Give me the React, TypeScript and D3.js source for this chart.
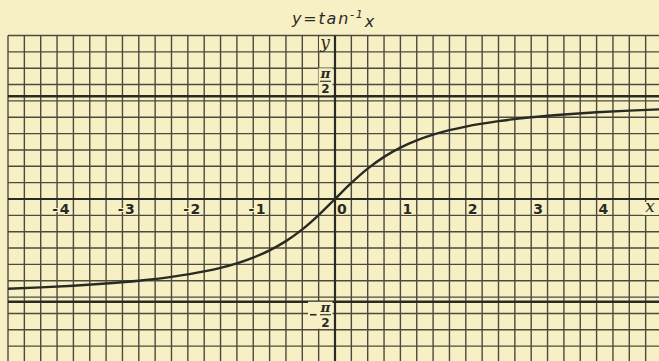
import React from "react";
import * as d3 from "d3";

// Sampled points of the inverse tangent curve
const curveX = [-5, -4.5, -4, -3.5, -3, -2.5, -2, -1.75, -1.5, -1.25, -1, -0.75, -0.5, -0.25, 0, 0.25, 0.5, 0.75, 1, 1.25, 1.5, 1.75, 2, 2.5, 3, 3.5, 4, 4.5, 5];
const curveY = [-1.373, -1.352, -1.326, -1.292, -1.249, -1.19, -1.107, -1.052, -0.983, -0.896, -0.785, -0.644, -0.464, -0.245, 0, 0.245, 0.464, 0.644, 0.785, 0.896, 0.983, 1.052, 1.107, 1.19, 1.249, 1.292, 1.326, 1.352, 1.373];

const xTicks = [-4, -3, -2, -1, 0, 1, 2, 3, 4];
const xTickLabels = ["-4", "-3", "-2", "-1", "0", "1", "2", "3", "4"];
const asymptotes = [Math.PI / 2, -Math.PI / 2];

const W = 659;
const H = 361;
const PAPER = "#f7f0c4";
const INK = "#2a2a24";
const GRID = "#4b4a3e";

export default function App() {
  const x = d3.scaleLinear().domain([-5, 5]).range([8, 662]);
  const y = d3.scaleLinear().domain([-2.5, 2.5]).range([362.5, 35.5]);

  const step = 0.25;
  const vLines = d3.range(-5, 5 + 1e-9, step);
  const hLines = d3.range(-2.5, 2.5 + 1e-9, step);

  const pts: [number, number][] = curveX.map((v, i) => [v, curveY[i]]);
  const line = d3
    .line<[number, number]>()
    .x((d) => x(d[0]))
    .y((d) => y(d[1]))
    .curve(d3.curveMonotoneX);

  const top = y(2.5);
  const left = x(-5);

  const labelFont = "'DejaVu Sans', sans-serif";

  return (
    <div style={{ position: "fixed", left: 0, top: 0 }}>
      <svg width={W} height={H} style={{ display: "block" }}>
        <defs>
          <clipPath id="plot">
            <rect x={left} y={top} width={W - left} height={H - top} />
          </clipPath>
        </defs>
        <rect width={W} height={H} fill={PAPER} />

        {/* Title */}
        <text
          x={292}
          y={24}
          fontFamily={labelFont}
          fontStyle="italic"
          fontSize={16}
          fill={INK}
          letterSpacing={1.8}
        >
          <tspan>y=tan</tspan>
          <tspan fontSize={11} dy={-6}>-1</tspan>
          <tspan dy={9} fontSize={16}>x</tspan>
        </text>

        {/* Grid */}
        <g stroke={GRID} strokeWidth={1.4}>
          {vLines.map((v) => (
            <line key={"v" + v} x1={x(v)} x2={x(v)} y1={top} y2={H} />
          ))}
          {hLines.map((v) => (
            <line key={"h" + v} x1={left} x2={W} y1={y(v)} y2={y(v)} />
          ))}
        </g>

        {/* Asymptotes at ±π/2 */}
        <g stroke={INK} strokeWidth={2.4}>
          {asymptotes.map((a) => (
            <line key={a} x1={left} x2={W} y1={y(a)} y2={y(a)} />
          ))}
        </g>

        {/* Axes */}
        <g stroke={INK} strokeWidth={2.2}>
          <line x1={left} x2={W} y1={y(0)} y2={y(0)} />
          <line x1={x(0)} x2={x(0)} y1={top} y2={H} />
        </g>

        {/* Curve */}
        <path
          d={line(pts) || ""}
          fill="none"
          stroke={INK}
          strokeWidth={2.4}
          clipPath="url(#plot)"
        />

        {/* x tick labels */}
        <g fontFamily={labelFont} fontWeight="bold" fontSize={14} fill={INK}>
          {xTicks.map((t, i) => (
            <text
              key={t}
              x={t < 0 ? x(t) - 2.5 : x(t) + 2}
              y={y(0) + 14.5}
              textAnchor={t < 0 ? "end" : "start"}
              letterSpacing={t < 0 ? 1.5 : 0}
              stroke={PAPER}
              strokeWidth={2}
              paintOrder="stroke"
            >
              {xTickLabels[i]}
            </text>
          ))}
        </g>

        {/* Axis names */}
        <rect x={319} y={37} width={13} height={14} fill={PAPER} />
        <text
          x={325}
          y={48}
          textAnchor="middle"
          fontFamily="'DejaVu Serif', serif"
          fontStyle="italic"
          fontSize={17}
          fill={INK}
        >
          y
        </text>
        <rect x={643} y={y(0) + 3} width={15} height={13} fill={PAPER} />
        <text
          x={650}
          y={y(0) + 12.5}
          textAnchor="middle"
          fontFamily="'DejaVu Serif', serif"
          fontStyle="italic"
          fontSize={17}
          fill={INK}
        >
          x
        </text>

        {/* ±π/2 labels */}
        {asymptotes.map((a) => {
          const cy = a > 0 ? y(a) - 15 : y(a) + 13;
          return (
            <g key={"lab" + a}>
              <rect
                x={a > 0 ? 318.5 : 308}
                y={cy - 13}
                width={a > 0 ? 14 : 24.5}
                height={27}
                fill={PAPER}
              />
              <text
                x={325.5}
                y={cy - 3}
                textAnchor="middle"
                fontFamily="'DejaVu Serif', serif"
                fontStyle="italic"
                fontWeight="bold"
                fontSize={13.5}
                fill={INK}
              >
                π
              </text>
              <line x1={320} x2={331} y1={cy} y2={cy} stroke={INK} strokeWidth={1.1} />
              <text
                x={325.5}
                y={cy + 11.8}
                textAnchor="middle"
                fontFamily={labelFont}
                fontWeight="bold"
                fontSize={12}
                fill={INK}
              >
                2
              </text>
              {a < 0 && (
                <line x1={310} x2={316.5} y1={cy} y2={cy} stroke={INK} strokeWidth={1.6} />
              )}
            </g>
          );
        })}
      </svg>
    </div>
  );
}
